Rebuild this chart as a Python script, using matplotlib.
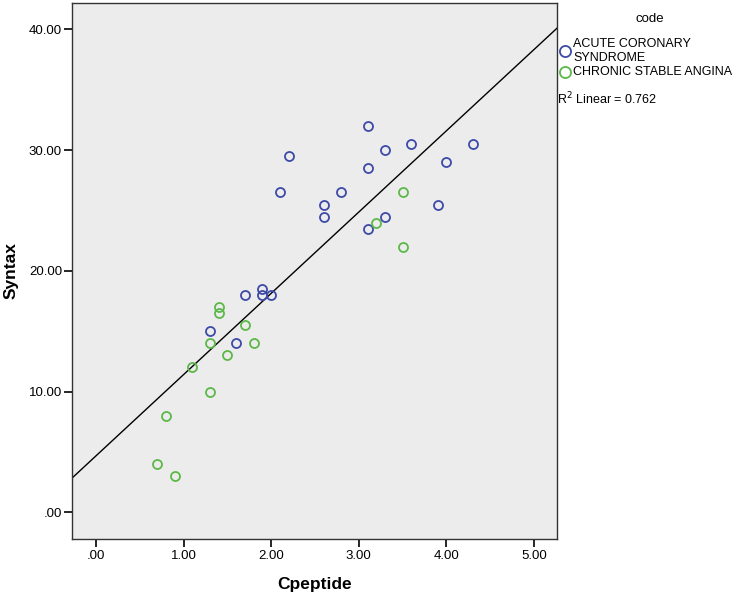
import numpy as np
import matplotlib
matplotlib.use("Agg")
import matplotlib.pyplot as plt
from matplotlib.lines import Line2D

plt.rcParams['font.family'] = ['Liberation Sans', 'DejaVu Sans']

acs_x = [2.2, 2.1, 2.8, 2.6, 2.6, 1.9, 1.7, 1.9, 2.0, 3.1, 3.3, 3.6, 4.3, 3.1, 4.0, 3.9, 3.3, 3.1, 1.3, 1.6]
acs_y = [29.5, 26.5, 26.5, 25.5, 24.5, 18.5, 18.0, 18.0, 18.0, 32.0, 30.0, 30.5, 30.5, 28.5, 29.0, 25.5, 24.5, 23.5, 15.0, 14.0]
csa_x = [3.5, 3.2, 3.5, 1.4, 1.4, 1.7, 1.3, 1.8, 1.5, 1.1, 1.3, 0.8, 0.7, 0.9]
csa_y = [26.5, 24.0, 22.0, 17.0, 16.5, 15.5, 14.0, 14.0, 13.0, 12.0, 10.0, 8.0, 4.0, 3.0]
x_ticks = [0, 1, 2, 3, 4, 5]
x_tick_labels = ['.00', '1.00', '2.00', '3.00', '4.00', '5.00']
y_ticks = [0, 10, 20, 30, 40]
y_tick_labels = ['.00', '10.00', '20.00', '30.00', '40.00']
groups = ['ACUTE CORONARY\nSYNDROME', 'CHRONIC STABLE ANGINA']
r2_label = 'R$^2$ Linear = 0.762'

blue = '#3d4aa8'
green = '#5cb848'

W, H = 737, 596
fig = plt.figure(figsize=(W / 100, H / 100), dpi=100)
ax = fig.add_axes([71.7 / W, 1 - 538.5 / H, (557.3 - 71.7) / W, (538.5 - 2.7) / H])
ax.set_facecolor('#ececec')

xlim = (-0.277, 5.266)
ylim = (-2.17, 42.22)
ax.set_xlim(*xlim)
ax.set_ylim(*ylim)

all_x = np.array(acs_x + csa_x)
all_y = np.array(acs_y + csa_y)
slope, intercept = np.polyfit(all_x, all_y, 1)
xs = np.array(xlim)
ax.plot(xs, slope * xs + intercept, color='black', lw=1.0, zorder=2)

ax.plot(acs_x, acs_y, 'o', ms=6.5, mfc='none', mec=blue, mew=1.3, zorder=3)
ax.plot(csa_x, csa_y, 'o', ms=6.5, mfc='none', mec=green, mew=1.3, zorder=3)

ax.set_xticks(x_ticks)
ax.set_xticklabels(x_tick_labels)
ax.set_yticks(y_ticks)
ax.set_yticklabels(y_tick_labels)
ax.tick_params(direction='out', length=6, width=1.2, labelsize=9.5, colors='black')
ax.tick_params(axis='y', pad=1)
ax.tick_params(axis='x', pad=2)
for s in ax.spines.values():
    s.set_linewidth(1.0)
    s.set_color('#333333')

ax.set_xlabel('Cpeptide', fontsize=12.5, fontweight='bold', labelpad=11)
ax.set_ylabel('Syntax', fontsize=12.5, fontweight='bold', labelpad=7)


def fx(px):
    return px / W


def fy(py):
    return 1 - py / H


# legend drawn in figure pixel positions
fig.text(fx(650), fy(19), 'code', fontsize=9.5, ha='center', va='center')
colors = [blue, green]
label_y = [51, 72]
for lbl, col, yy in zip(groups, colors, label_y):
    fig.add_artist(Line2D([fx(565)], [fy(yy)], marker='o', ls='none', ms=8, mfc='none',
                          mec=col, mew=1.3, transform=fig.transFigure))
    fig.text(fx(573), fy(yy), lbl, fontsize=9, ha='left', va='center', linespacing=1.12)
fig.text(fx(557), fy(99), r2_label, fontsize=9, ha='left', va='center')

fig.savefig('out.png', dpi=100, facecolor='white')
